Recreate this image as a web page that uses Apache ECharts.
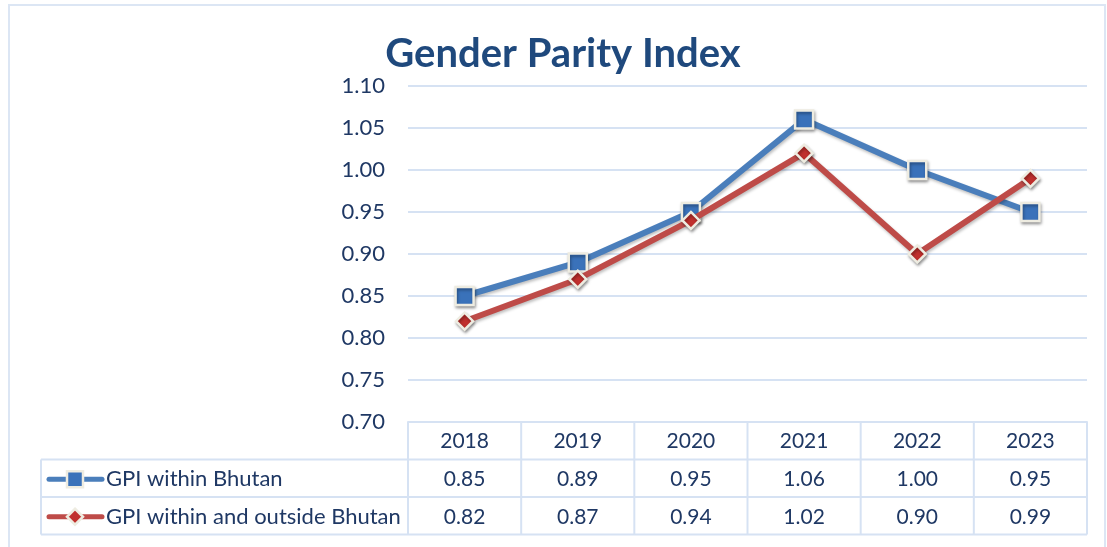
<!DOCTYPE html>
<html>
<head>
<meta charset="utf-8">
<script src="https://cdn.jsdelivr.net/npm/echarts@6/dist/echarts.min.js"></script>
<style>
html,body{margin:0;padding:0;background:#fff;}
#chart{width:1107px;height:547px;}
</style>
</head>
<body>
<div id="chart"></div>
<script>
var years = ['2018', '2019', '2020', '2021', '2022', '2023'];
var gpiWithin = [0.85, 0.89, 0.95, 1.06, 1.00, 0.95];
var gpiWithinOutside = [0.82, 0.87, 0.94, 1.02, 0.90, 0.99];
var seriesNames = ['GPI within Bhutan', 'GPI within and outside Bhutan'];
var titleText = 'Gender Parity Index';

var FONT = 'Lato';
var TEXT = '#1F3864';
var GRIDC = '#D6E2F3';
var BLUE = '#4A7EBB';
var RED = '#BE4B48';
var BORDER = '#EEECE1';
var FS = 21;

var chart = echarts.init(document.getElementById('chart'));
var option = {
  backgroundColor: '#fff',
  animation: false,
  title: {
    text: titleText, left: 558, textAlign: 'center', top: 29,
    textStyle: {fontFamily: FONT, fontSize: 40, fontWeight: 'bold', color: '#1F497D'}
  },
  grid: {left: 408, right: 20, top: 86, height: 336, containLabel: false},
  xAxis: {
    type: 'category', data: years, boundaryGap: true,
    axisLine: {show: true, lineStyle: {color: GRIDC, width: 2}},
    axisTick: {show: false},
    axisLabel: {margin: 9, fontFamily: FONT, fontSize: FS, color: TEXT}
  },
  yAxis: {
    type: 'value', min: 0.70, max: 1.10, interval: 0.05,
    axisLine: {show: false}, axisTick: {show: false},
    axisLabel: {margin: 23, fontFamily: FONT, fontSize: 22, color: TEXT,
      formatter: function (v) { return v.toFixed(2); }},
    splitLine: {lineStyle: {color: GRIDC, width: 2}}
  },
  series: [
    {
      name: seriesNames[0], type: 'line', data: gpiWithin,
      symbol: 'rect', symbolSize: 18,
      lineStyle: {color: BLUE, width: 6, shadowBlur: 3, shadowColor: 'rgba(0,0,0,0.25)', shadowOffsetX: 1, shadowOffsetY: 2},
      itemStyle: {color: '#3A72BA', borderColor: BORDER, borderWidth: 2.5, shadowBlur: 3, shadowColor: 'rgba(0,0,0,0.35)', shadowOffsetX: 1, shadowOffsetY: 2},
      z: 3
    },
    {
      name: seriesNames[1], type: 'line', data: gpiWithinOutside,
      symbol: 'diamond', symbolSize: 17,
      lineStyle: {color: RED, width: 6, shadowBlur: 3, shadowColor: 'rgba(0,0,0,0.25)', shadowOffsetX: 1, shadowOffsetY: 2},
      itemStyle: {color: '#C0302D', borderColor: BORDER, borderWidth: 2.5, shadowBlur: 3, shadowColor: 'rgba(0,0,0,0.35)', shadowOffsetX: 1, shadowOffsetY: 2},
      z: 4
    }
  ]
};
chart.setOption(option);

// Build data table below the plot, aligned to the category axis
var centers = years.map(function (y, i) { return chart.convertToPixel({xAxisIndex: 0}, i); });
var band = centers[1] - centers[0];
var xLeft = centers[0] - band / 2;
var xRight = centers[centers.length - 1] + band / 2;
var yTop = chart.convertToPixel({yAxisIndex: 0}, 0.70);
var rowH = 37.5;
var r1 = yTop + rowH, r2 = r1 + rowH, r3 = r2 + rowH;
var tableLeft = 41;

var g = [];
function line(x1, y1, x2, y2) {
  g.push({type: 'line', shape: {x1: x1, y1: y1, x2: x2, y2: y2}, style: {stroke: GRIDC, lineWidth: 2}, z: 1});
}
// outer frame
g.push({type: 'rect', shape: {x: 9, y: 5, width: 1096, height: 560}, style: {fill: null, stroke: '#DCE6F4', lineWidth: 2}, z: 0});
line(tableLeft, r1, xRight, r1);
line(tableLeft, r2, xRight, r2);
line(tableLeft, r3, xRight, r3);
line(tableLeft, r1, tableLeft, r3);
for (var i = 0; i <= years.length; i++) {
  var x = xLeft + band * i;
  line(x, yTop, x, r3);
}
var rowsData = [gpiWithin, gpiWithinOutside];
var rowY = [(r1 + r2) / 2 + 1, (r2 + r3) / 2 + 1];
var colors = [BLUE, RED];
var markerFill = ['#3A72BA', '#C0302D'];
for (var r = 0; r < 2; r++) {
  for (var c = 0; c < years.length; c++) {
    g.push({type: 'text', x: centers[c], y: rowY[r], style: {
      text: rowsData[r][c].toFixed(2), fill: TEXT, font: FS + 'px ' + FONT, align: 'center', verticalAlign: 'middle'}, z: 5});
  }
  // legend key
  g.push({type: 'line', shape: {x1: 49, y1: rowY[r], x2: 102, y2: rowY[r]}, style: {stroke: colors[r], lineWidth: 5, lineCap: 'round'}, z: 5});
  if (r === 0) {
    g.push({type: 'rect', shape: {x: 67, y: rowY[r] - 8, width: 16, height: 16}, style: {fill: markerFill[0], stroke: BORDER, lineWidth: 2.5}, z: 6});
  } else {
    g.push({type: 'polygon', shape: {points: [[75, rowY[r] - 8], [83, rowY[r]], [75, rowY[r] + 8], [67, rowY[r]]]}, style: {fill: markerFill[1], stroke: BORDER, lineWidth: 2.5}, z: 6});
  }
  g.push({type: 'text', x: 106, y: rowY[r], style: {
    text: seriesNames[r], fill: TEXT, font: '22px ' + FONT, align: 'left', verticalAlign: 'middle'}, z: 5});
}
chart.setOption({graphic: g});
</script>
</body>
</html>
